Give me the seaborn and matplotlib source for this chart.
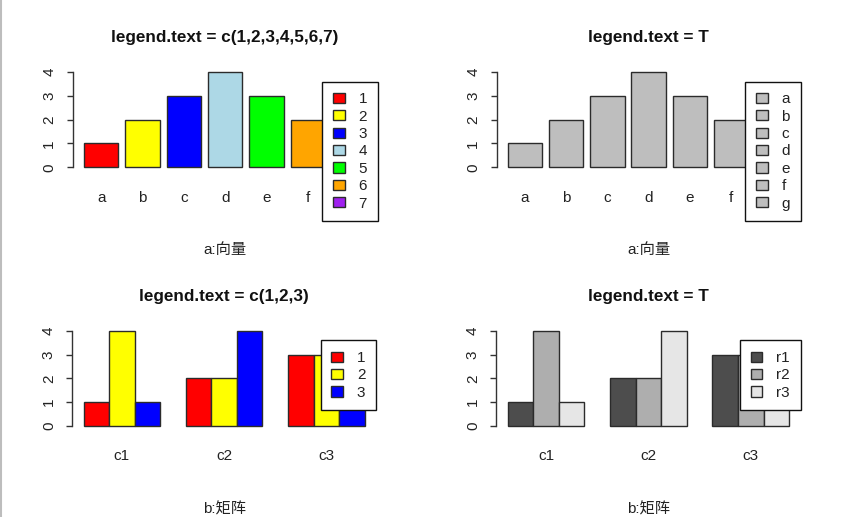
import pandas as pd
import matplotlib
matplotlib.use("Agg")
import matplotlib.pyplot as plt
from matplotlib.patches import Patch
from matplotlib.lines import Line2D
import seaborn as sns

# data
vec_names = ["a", "b", "c", "d", "e", "f", "g"]
vec_values = [1, 2, 3, 4, 3, 2, 1]
vec_colors = ["red", "yellow", "blue", "lightblue", "#00FF00", "orange", "#A020F0"]
vec_legend = ["1", "2", "3", "4", "5", "6", "7"]

mat_cols = ["c1", "c2", "c3"]
mat_rows = ["r1", "r2", "r3"]
r1 = [1, 2, 3]
r2 = [4, 2, 3]
r3 = [1, 4, 2]
mat_colors = ["red", "yellow", "blue"]
mat_grays = ["#4D4D4D", "#AEAEAE", "#E6E6E6"]
mat_legend = ["1", "2", "3"]

sns.set_style("white")
plt.rcParams["font.family"] = ["Liberation Sans", "Noto Sans CJK SC", "DejaVu Sans"]

W, H = 847, 517
fig = plt.figure(figsize=(W / 100, H / 100), dpi=100)

EDGE = "#2b2b2b"
FS = 11


def px_axes(left, top, right, bottom):
    return fig.add_axes([left / W, 1 - bottom / H, (right - left) / W, (bottom - top) / H])


def style_axes(ax, title, xlabel):
    sns.despine(ax=ax, top=True, right=True, bottom=True, left=False)
    ax.spines["left"].set_bounds(0, 4)
    ax.spines["left"].set_color("#333333")
    ax.spines["left"].set_linewidth(1.0)
    ax.set_ylim(-0.16, 4.16)
    ax.set_yticks([0, 1, 2, 3, 4])
    ax.set_yticklabels(["0", "1", "2", "3", "4"], rotation=90, va="center")
    ax.tick_params(axis="y", length=4.3, width=1.0, color="#333333", labelsize=FS,
                   pad=7.5, left=True, labelcolor="#222222")
    ax.tick_params(axis="x", length=0, labelsize=FS, pad=14, labelcolor="#222222")
    ax.set_title(title, fontsize=12.3, fontweight="bold", pad=19, color="#111111")
    ax.set_xlabel(xlabel, fontsize=FS, labelpad=28, color="#222222")
    ax.set_ylabel("")
    ax.set_facecolor("white")


def add_legend(ax, labels, colors):
    handles = [Patch(facecolor=c, edgecolor=EDGE, linewidth=1.0) for c in colors]
    leg = ax.legend(handles, labels, loc="upper right", bbox_to_anchor=(1.0, 0.869),
                    borderaxespad=0, frameon=True, fancybox=False, fontsize=FS,
                    handlelength=0.76, handleheight=0.65, handletextpad=0.9,
                    labelspacing=0.22, borderpad=0.7)
    fr = leg.get_frame()
    fr.set_edgecolor("#111111")
    fr.set_linewidth(1.0)
    fr.set_alpha(1)
    for t in leg.get_texts():
        t.set_color("#222222")


# vector panels
vec_df = pd.DataFrame({"name": vec_names, "value": vec_values})

ax1 = px_axes(72.7, 68.2, 377.6, 171.1)
sns.barplot(data=vec_df, x="name", y="value", hue="name", palette=vec_colors,
            width=1 / 1.2, saturation=1, edgecolor=EDGE, linewidth=1.0,
            legend=False, ax=ax1)
ax1.set_xlim(-0.69, 6.69)
style_axes(ax1, "legend.text = c(1,2,3,4,5,6,7)", "a:向量")
add_legend(ax1, vec_legend, vec_colors)

ax2 = px_axes(496.7, 68.2, 800.5, 171.1)
sns.barplot(data=vec_df, x="name", y="value", color="#BEBEBE",
            width=1 / 1.2, saturation=1, edgecolor=EDGE, linewidth=1.0, ax=ax2)
ax2.set_xlim(-0.69, 6.69)
style_axes(ax2, "legend.text = T", "a:向量")
add_legend(ax2, vec_names, ["#BEBEBE"] * len(vec_names))

# matrix panels
mat_df = pd.DataFrame({
    "col": mat_cols * 3,
    "row": [mat_rows[0]] * 3 + [mat_rows[1]] * 3 + [mat_rows[2]] * 3,
    "value": r1 + r2 + r3,
})

ax3 = px_axes(72.3, 326.9, 376.0, 429.8)
sns.barplot(data=mat_df, x="col", y="value", hue="row", palette=mat_colors,
            width=0.75, saturation=1, edgecolor=EDGE, linewidth=1.0,
            legend=False, ax=ax3)
ax3.set_xlim(-0.485, 2.485)
style_axes(ax3, "legend.text = c(1,2,3)", "b:矩阵")
add_legend(ax3, mat_legend, mat_colors)

ax4 = px_axes(496.3, 326.9, 800.5, 429.8)
sns.barplot(data=mat_df, x="col", y="value", hue="row", palette=mat_grays,
            width=0.75, saturation=1, edgecolor=EDGE, linewidth=1.0,
            legend=False, ax=ax4)
ax4.set_xlim(-0.485, 2.485)
style_axes(ax4, "legend.text = T", "b:矩阵")
add_legend(ax4, mat_rows, mat_grays)

# thin grey frame line on the left edge
fig.add_artist(Line2D([0.0012, 0.0012], [0, 1], color="#BDBDBD", linewidth=1.5,
                      transform=fig.transFigure))

fig.savefig("out.png", dpi=100, facecolor="white")
